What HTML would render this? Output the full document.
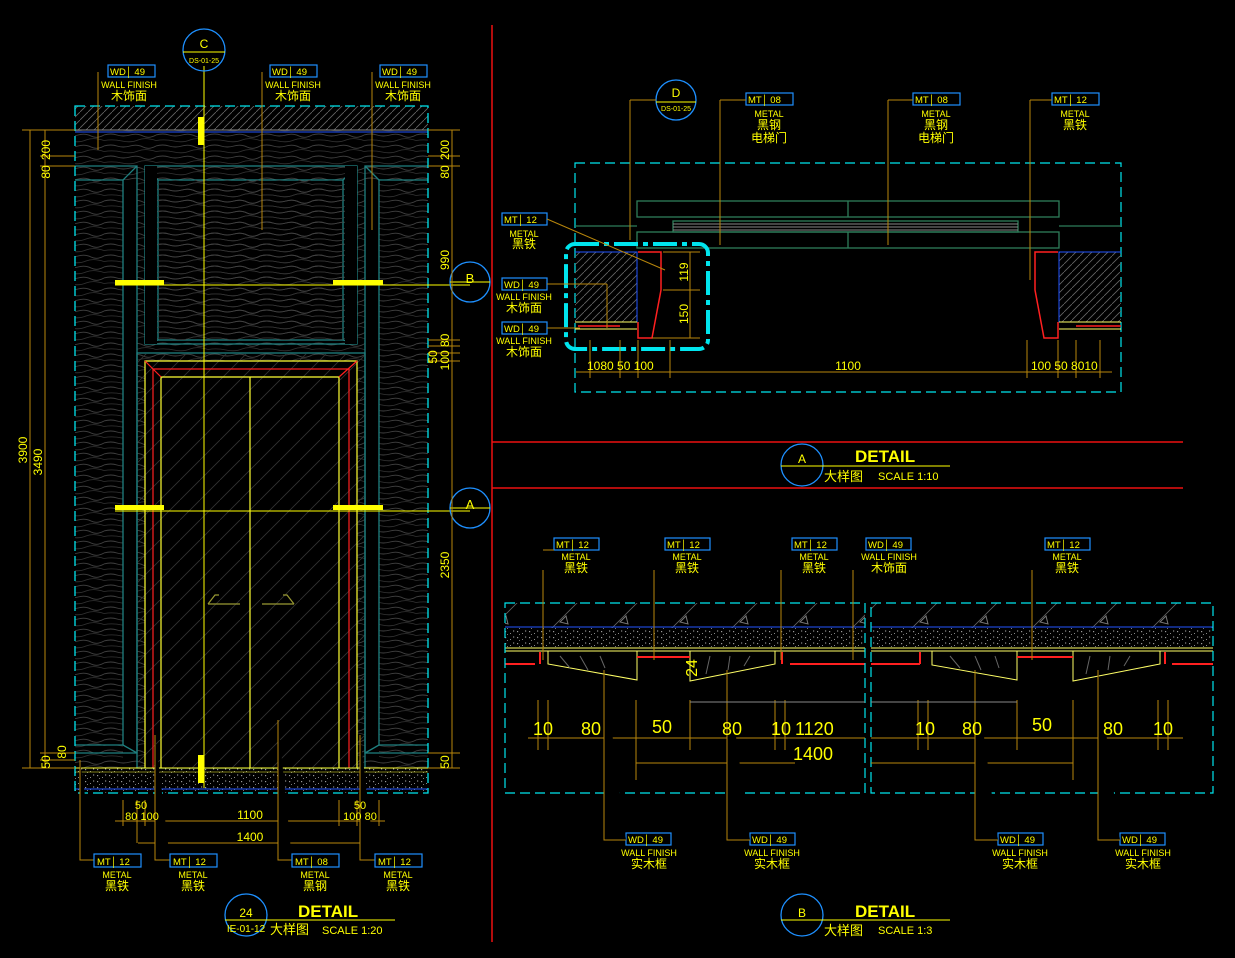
<!DOCTYPE html>
<html><head><meta charset="utf-8"><style>
html,body{margin:0;padding:0;background:#000;}
svg{display:block}
text{font-family:"Liberation Sans","Noto Sans CJK SC",sans-serif;fill:#ffff00;}
.t{font-size:10px}
.c{font-size:12px}
.d{font-size:13px}
</style></head><body>
<svg width="1235" height="958" viewBox="0 0 1235 958" xmlns="http://www.w3.org/2000/svg">
<defs>
<pattern id="wood" width="52" height="11" patternUnits="userSpaceOnUse">
<path d="M0 3 Q7 1 13 3 T26 3 T39 4 T52 3" stroke="#414141" stroke-width="0.9" fill="none"/>
<path d="M0 8.5 Q9 7 18 9 T34 8 T52 8.5" stroke="#333" stroke-width="0.8" fill="none"/>
</pattern>
<pattern id="hatch" width="8" height="8" patternUnits="userSpaceOnUse">
<path d="M0 8 L8 0" stroke="#666" stroke-width="0.8"/>
</pattern>
<pattern id="glass" width="20" height="20" patternUnits="userSpaceOnUse">
<path d="M0 20 L20 0" stroke="#333" stroke-width="0.8"/>
</pattern>
<pattern id="speck" width="12" height="6" patternUnits="userSpaceOnUse">
<rect x="1" y="1" width="1.2" height="1.2" fill="#999"/><rect x="6" y="3" width="1" height="1" fill="#888"/><rect x="9" y="0.5" width="1.2" height="1" fill="#aaa"/><rect x="3" y="4" width="1" height="1" fill="#777"/>
</pattern>
<pattern id="conc" width="60" height="40" patternUnits="userSpaceOnUse">
<path d="M0 40 L40 0" stroke="#666" stroke-width="0.8"/><path d="M20 22 l6 -6 l2 8z" stroke="#777" fill="none"/>
</pattern>
</defs>

<!-- ========== LEFT ELEVATION ========== -->
<rect x="75" y="130" width="353" height="638" fill="url(#wood)"/>
<rect x="75" y="106" width="353" height="24" fill="url(#hatch)"/>
<line x1="75" y1="130" x2="428" y2="130" stroke="#888"/>
<line x1="75" y1="132" x2="428" y2="132" stroke="#2255ff"/>
<rect x="123" y="180" width="14" height="580" fill="#000"/>
<rect x="365" y="180" width="14" height="580" fill="#000"/>
<g stroke="#1f8080" fill="none" stroke-width="1.3">
<path d="M75 166 H137 V753 H75"/><path d="M75 180 H123 V745 H75"/>
<path d="M428 166 H365 V753 H428"/><path d="M428 180 H379 V745 H428"/>
<line x1="123" y1="180" x2="137" y2="166"/><line x1="379" y1="180" x2="365" y2="166"/>
<line x1="123" y1="745" x2="137" y2="753"/><line x1="379" y1="745" x2="365" y2="753"/>
<rect x="145" y="166" width="212" height="178"/>
<rect x="158" y="180" width="185" height="160"/>
<line x1="145" y1="166" x2="158" y2="180"/><line x1="357" y1="166" x2="343" y2="180"/>
<line x1="145" y1="344" x2="158" y2="340"/><line x1="357" y1="344" x2="343" y2="340"/>
<rect x="137" y="353" width="228" height="415"/>
</g>
<rect x="145" y="166" width="12" height="178" fill="#000"/><rect x="345" y="166" width="12" height="178" fill="#000"/>
<rect x="158" y="180" width="185" height="160" fill="url(#wood)"/>
<rect x="138" y="354" width="226" height="414" fill="url(#glass)"/>
<rect x="145" y="361" width="212" height="407" fill="#000"/>
<rect x="145" y="361" width="212" height="407" fill="url(#glass)"/>
<g fill="none" stroke-width="1.2">
<path d="M145 768 V361 H357 V768" stroke="#ffff33"/>
<path d="M153 768 V369 H349 V768" stroke="#ff2020"/>
<path d="M161 768 V377 H339 V768" stroke="#ffff33"/>
<line x1="145" y1="361" x2="161" y2="377" stroke="#ff2020"/><line x1="357" y1="361" x2="339" y2="377" stroke="#ff2020"/>
<line x1="250" y1="377" x2="250" y2="768" stroke="#ffff33"/>
<path d="M208 604 H240 M208 604 L215 595 H219" stroke="#999933"/>
<path d="M262 604 H294 M294 604 L287 595 H283" stroke="#999933"/>
</g>
<rect x="75" y="768" width="353" height="25" fill="url(#speck)"/>
<line x1="75" y1="768" x2="428" y2="768" stroke="#ffff33"/>
<line x1="75" y1="772" x2="428" y2="772" stroke="#ffff33" stroke-width="0.6"/>
<line x1="75" y1="789" x2="428" y2="789" stroke="#2255ff"/>
<rect x="75" y="106" width="353" height="687" fill="none" stroke="#00e5ee" stroke-width="1.3" stroke-dasharray="10 5"/>
<g stroke="#ffff00">
<line x1="204" y1="66" x2="204" y2="788" stroke-width="1"/>
<line x1="115" y1="285" x2="470" y2="285"/>
<line x1="115" y1="511" x2="470" y2="511"/>
</g>
<g fill="#ffff00">
<rect x="198" y="117" width="6" height="28"/><rect x="198" y="755" width="6" height="28"/>
<rect x="115" y="280" width="49" height="5"/><rect x="333" y="280" width="50" height="5"/>
<rect x="115" y="505" width="49" height="5"/><rect x="333" y="505" width="50" height="5"/>
</g>
<g fill="none" stroke="#1e90ff" stroke-width="1.3">
<circle cx="204" cy="50" r="21"/><circle cx="470" cy="282" r="20"/><circle cx="470" cy="508" r="20"/>
<circle cx="676" cy="100" r="20"/>
<circle cx="246" cy="915" r="21"/><circle cx="802" cy="465" r="21"/><circle cx="802" cy="915" r="21"/>
</g>
<g stroke="#ffff00"><line x1="183" y1="52" x2="225" y2="52"/><line x1="450" y1="282" x2="490" y2="282"/><line x1="450" y1="508" x2="490" y2="508"/><line x1="656" y1="102" x2="696" y2="102"/></g>
<text x="204" y="48" class="c" text-anchor="middle" fill="#fff">C</text>
<text x="204" y="63" font-size="7" text-anchor="middle">DS-01-25</text>
<text x="470" y="283" class="d" text-anchor="middle" fill="#fff">B</text>
<text x="470" y="509" class="d" text-anchor="middle" fill="#fff">A</text>
<text x="676" y="97" class="c" text-anchor="middle" fill="#fff">D</text>
<text x="676" y="111" font-size="7" text-anchor="middle">DS-01-25</text>

<g stroke="#b8860b" stroke-width="1">
<line x1="30" y1="130" x2="30" y2="768"/><line x1="45" y1="130" x2="45" y2="768"/>
<line x1="22" y1="130" x2="75" y2="130"/><line x1="22" y1="768" x2="75" y2="768"/>
<line x1="40" y1="156" x2="75" y2="156"/><line x1="40" y1="166" x2="75" y2="166"/>
<line x1="40" y1="753" x2="75" y2="753"/><line x1="40" y1="760" x2="75" y2="760"/>
<line x1="452" y1="130" x2="452" y2="768"/>
<line x1="428" y1="130" x2="460" y2="130"/><line x1="428" y1="156" x2="460" y2="156"/><line x1="428" y1="166" x2="460" y2="166"/>
<line x1="428" y1="340" x2="460" y2="340"/><line x1="428" y1="346" x2="460" y2="346"/><line x1="428" y1="353" x2="460" y2="353"/><line x1="428" y1="361" x2="460" y2="361"/>
<line x1="428" y1="768" x2="460" y2="768"/><line x1="428" y1="753" x2="460" y2="753"/>
</g>
<g font-size="12">
<text transform="translate(27,450) rotate(-90)" text-anchor="middle">3900</text>
<text transform="translate(42,462) rotate(-90)" text-anchor="middle">3490</text>
<text transform="translate(50,150) rotate(-90)" text-anchor="middle">200</text>
<text transform="translate(50,172) rotate(-90)" text-anchor="middle">80</text>
<text transform="translate(50,762) rotate(-90)" text-anchor="middle">50</text>
<text transform="translate(66,752) rotate(-90)" text-anchor="middle">80</text>
<text transform="translate(449,150) rotate(-90)" text-anchor="middle">200</text>
<text transform="translate(449,172) rotate(-90)" text-anchor="middle">80</text>
<text transform="translate(449,260) rotate(-90)" text-anchor="middle">990</text>
<text transform="translate(437,357) rotate(-90)" text-anchor="middle">50</text>
<text transform="translate(449,352) rotate(-90)" text-anchor="middle">100 80</text>
<text transform="translate(449,565) rotate(-90)" text-anchor="middle">2350</text>
<text transform="translate(449,762) rotate(-90)" text-anchor="middle">50</text>
</g>
<g stroke="#b8860b">
<line x1="115" y1="821" x2="385" y2="821"/><line x1="138" y1="843" x2="364" y2="843"/>
<line x1="123" y1="800" x2="123" y2="826"/><line x1="137" y1="800" x2="137" y2="843"/><line x1="145" y1="800" x2="145" y2="826"/><line x1="162" y1="800" x2="162" y2="826"/>
<line x1="339" y1="800" x2="339" y2="826"/><line x1="357" y1="800" x2="357" y2="826"/><line x1="365" y1="800" x2="365" y2="843"/><line x1="379" y1="800" x2="379" y2="826"/>
<path d="M80 760 V860 H94"/><path d="M155 735 V860 H170"/><path d="M278 720 V860 H292"/><path d="M360 735 V860 H375"/>
<line x1="98" y1="150" x2="98" y2="72"/><line x1="262" y1="230" x2="262" y2="72"/><line x1="372" y1="230" x2="372" y2="72"/>
</g>
<text x="250" y="819" class="c" text-anchor="middle">1100</text>
<text x="250" y="841" class="c" text-anchor="middle">1400</text>
<text x="141" y="809" font-size="11" text-anchor="middle">50</text>
<text x="142" y="820" font-size="11" text-anchor="middle">80 100</text>
<text x="360" y="809" font-size="11" text-anchor="middle">50</text>
<text x="360" y="820" font-size="11" text-anchor="middle">100 80</text>

<g fill="none" stroke="#1e90ff" stroke-width="1.2">
<rect x="108" y="65" width="47" height="12"/><rect x="270" y="65" width="47" height="12"/><rect x="380" y="65" width="47" height="12"/>
<rect x="94" y="854" width="47" height="13"/><rect x="170" y="854" width="47" height="13"/><rect x="292" y="854" width="47" height="13"/><rect x="375" y="854" width="47" height="13"/>
<rect x="746" y="93" width="47" height="12"/><rect x="913" y="93" width="47" height="12"/><rect x="1052" y="93" width="47" height="12"/>
<rect x="502" y="213" width="45" height="12"/><rect x="502" y="278" width="45" height="12"/><rect x="502" y="322" width="45" height="12"/>
<rect x="554" y="538" width="45" height="12"/><rect x="665" y="538" width="45" height="12"/><rect x="792" y="538" width="45" height="12"/><rect x="866" y="538" width="45" height="12"/><rect x="1045" y="538" width="45" height="12"/>
<rect x="626" y="833" width="45" height="12"/><rect x="750" y="833" width="45" height="12"/><rect x="998" y="833" width="45" height="12"/><rect x="1120" y="833" width="45" height="12"/>
</g>
<g font-size="9.5">
<text x="110" y="75">WD│ 49</text><text x="272" y="75">WD│ 49</text><text x="382" y="75">WD│ 49</text>
<text x="97" y="865">MT│ 12</text><text x="173" y="865">MT│ 12</text><text x="295" y="865">MT│ 08</text><text x="378" y="865">MT│ 12</text>
<text x="748" y="103">MT│ 08</text><text x="915" y="103">MT│ 08</text><text x="1054" y="103">MT│ 12</text>
<text x="504" y="223">MT│ 12</text><text x="504" y="288">WD│ 49</text><text x="504" y="332">WD│ 49</text>
<text x="556" y="548">MT│ 12</text><text x="667" y="548">MT│ 12</text><text x="794" y="548">MT│ 12</text><text x="868" y="548">WD│ 49</text><text x="1047" y="548">MT│ 12</text>
<text x="628" y="843">WD│ 49</text><text x="752" y="843">WD│ 49</text><text x="1000" y="843">WD│ 49</text><text x="1122" y="843">WD│ 49</text>
</g>
<g font-size="9" text-anchor="middle">
<text x="129" y="88">WALL FINISH</text><text x="293" y="88">WALL FINISH</text><text x="403" y="88">WALL FINISH</text>
<text x="117" y="878">METAL</text><text x="193" y="878">METAL</text><text x="315" y="878">METAL</text><text x="398" y="878">METAL</text>
<text x="769" y="117">METAL</text><text x="936" y="117">METAL</text><text x="1075" y="117">METAL</text>
<text x="524" y="237">METAL</text><text x="524" y="300">WALL FINISH</text><text x="524" y="344">WALL FINISH</text>
<text x="576" y="560">METAL</text><text x="687" y="560">METAL</text><text x="814" y="560">METAL</text><text x="889" y="560">WALL FINISH</text><text x="1067" y="560">METAL</text>
<text x="649" y="856">WALL FINISH</text><text x="772" y="856">WALL FINISH</text><text x="1020" y="856">WALL FINISH</text><text x="1143" y="856">WALL FINISH</text>
</g>
<g font-size="12" text-anchor="middle">
<text x="129" y="100">木饰面</text><text x="293" y="100">木饰面</text><text x="403" y="100">木饰面</text>
<text x="117" y="890">黑铁</text><text x="193" y="890">黑铁</text><text x="315" y="890">黑钢</text><text x="398" y="890">黑铁</text>
<text x="769" y="129">黑钢</text><text x="769" y="142">电梯门</text><text x="936" y="129">黑钢</text><text x="936" y="142">电梯门</text><text x="1075" y="129">黑铁</text>
<text x="524" y="248">黑铁</text><text x="524" y="312">木饰面</text><text x="524" y="356">木饰面</text>
<text x="576" y="572">黑铁</text><text x="687" y="572">黑铁</text><text x="814" y="572">黑铁</text><text x="889" y="572">木饰面</text><text x="1067" y="572">黑铁</text>
<text x="649" y="868">实木框</text><text x="772" y="868">实木框</text><text x="1020" y="868">实木框</text><text x="1143" y="868">实木框</text>
</g>

<g stroke="#ee1111" stroke-width="1.5">
<line x1="492" y1="25" x2="492" y2="942"/>
<line x1="492" y1="442" x2="1183" y2="442"/>
<line x1="492" y1="488" x2="1183" y2="488"/>
</g>

<g stroke="#ffff00"><line x1="225" y1="920" x2="395" y2="920"/><line x1="781" y1="466" x2="950" y2="466"/><line x1="781" y1="920" x2="950" y2="920"/></g>
<text x="246" y="917" class="c" text-anchor="middle">24</text>
<text x="246" y="932" font-size="10" text-anchor="middle">IE-01-12</text>
<text x="298" y="917" font-size="17" font-weight="bold">DETAIL</text>
<text x="270" y="934" font-size="13">大样图</text><text x="322" y="934" font-size="11">SCALE   1:20</text>
<text x="802" y="463" class="c" text-anchor="middle">A</text>
<text x="855" y="462" font-size="17" font-weight="bold">DETAIL</text>
<text x="824" y="481" font-size="13">大样图</text><text x="878" y="480" font-size="11">SCALE   1:10</text>
<text x="802" y="917" class="c" text-anchor="middle">B</text>
<text x="855" y="917" font-size="17" font-weight="bold">DETAIL</text>
<text x="824" y="935" font-size="13">大样图</text><text x="878" y="934" font-size="11">SCALE   1:3</text>

<rect x="575" y="163" width="546" height="229" fill="none" stroke="#00e5ee" stroke-width="1.2" stroke-dasharray="10 5"/>
<g fill="none" stroke="#2e7d5a" stroke-width="1.3">
<rect x="637" y="201" width="422" height="16"/><line x1="848" y1="201" x2="848" y2="217"/>
<rect x="637" y="232" width="422" height="16"/><line x1="848" y1="232" x2="848" y2="248"/>
<rect x="673" y="221" width="345" height="11"/>
<line x1="575" y1="226" x2="637" y2="226"/><line x1="1059" y1="226" x2="1121" y2="226"/>
</g>
<g stroke="#888"><line x1="673" y1="224" x2="1018" y2="224"/><line x1="673" y1="227" x2="1018" y2="227"/><line x1="673" y1="230" x2="1018" y2="230"/></g>
<rect x="575" y="252" width="62" height="70" fill="url(#hatch)"/>
<rect x="1059" y="252" width="62" height="70" fill="url(#hatch)"/>
<g stroke="#2255ff" fill="none"><path d="M575 252 H637 V322 H575"/><path d="M1121 252 H1059 V322 H1121"/></g>
<g stroke="#ff2020" stroke-width="1.5" fill="none">
<path d="M638 252 H661 V290 L652 338 H638 V322"/>
<path d="M1058 252 H1035 V290 L1044 338 H1058 V322"/>
<line x1="578" y1="326" x2="620" y2="326"/><line x1="1076" y1="326" x2="1121" y2="326"/>
</g>
<g stroke="#ffff66"><line x1="575" y1="322" x2="637" y2="322"/><line x1="1059" y1="322" x2="1121" y2="322"/><line x1="575" y1="329" x2="637" y2="329"/><line x1="1059" y1="329" x2="1121" y2="329"/></g>
<rect x="566" y="244" width="142" height="105" rx="9" fill="none" stroke="#00e5ee" stroke-width="4" stroke-dasharray="24 5 5 5"/>
<g stroke="#b8860b">
<line x1="576" y1="372" x2="1112" y2="372"/>
<line x1="663" y1="252" x2="700" y2="252"/><line x1="663" y1="290" x2="700" y2="290"/><line x1="652" y1="338" x2="700" y2="338"/><line x1="690" y1="252" x2="690" y2="338"/>
<line x1="630" y1="100" x2="630" y2="240"/><line x1="720" y1="100" x2="720" y2="245"/><line x1="888" y1="100" x2="888" y2="245"/><line x1="1030" y1="100" x2="1030" y2="280"/>
<line x1="630" y1="100" x2="656" y2="100"/><line x1="720" y1="100" x2="746" y2="100"/><line x1="888" y1="100" x2="913" y2="100"/><line x1="1030" y1="100" x2="1052" y2="100"/>
<line x1="547" y1="219" x2="665" y2="270"/><line x1="547" y1="284" x2="607" y2="284"/><line x1="607" y1="284" x2="607" y2="328"/><line x1="547" y1="328" x2="580" y2="328"/>
<line x1="590" y1="340" x2="590" y2="378"/><line x1="620" y1="340" x2="620" y2="378"/><line x1="638" y1="340" x2="638" y2="378"/><line x1="670" y1="340" x2="670" y2="378"/>
<line x1="1027" y1="340" x2="1027" y2="378"/><line x1="1058" y1="340" x2="1058" y2="378"/><line x1="1076" y1="340" x2="1076" y2="378"/><line x1="1100" y1="340" x2="1100" y2="378"/>
</g>
<g font-size="12">
<text x="848" y="370" text-anchor="middle">1100</text>
<text x="587" y="370">1080 50 100</text>
<text x="1031" y="370">100 50 8010</text>
<text transform="translate(688,272) rotate(-90)" text-anchor="middle">119</text>
<text transform="translate(688,314) rotate(-90)" text-anchor="middle">150</text>
</g>

<rect x="505" y="603" width="360" height="25" fill="url(#conc)"/>
<rect x="871" y="603" width="342" height="25" fill="url(#conc)"/>
<rect x="505" y="628" width="360" height="20" fill="url(#speck)"/>
<rect x="871" y="628" width="342" height="20" fill="url(#speck)"/>
<g stroke="#2255ff"><line x1="505" y1="627" x2="865" y2="627"/><line x1="871" y1="627" x2="1213" y2="627"/></g>
<g stroke="#ffff66" fill="none">
<line x1="505" y1="648" x2="865" y2="648"/><line x1="871" y1="648" x2="1213" y2="648"/>
<line x1="505" y1="651" x2="865" y2="651"/><line x1="871" y1="651" x2="1213" y2="651"/>
<path d="M548 651 V664 L637 680 V651"/><path d="M690 651 V681 L775 664 V651"/>
<path d="M932 651 V665 L1017 680 V651"/><path d="M1073 651 V681 L1160 664 V651"/>
</g>
<g stroke="#666"><path d="M560 656 l10 12 M580 656 l8 14 M600 656 l5 12 M710 656 l-4 18 M730 656 l-2 14 M750 656 l-6 10 M950 656 l10 12 M975 656 l6 14 M995 656 l4 12 M1090 656 l-4 18 M1110 656 l-2 14 M1130 656 l-6 10"/></g>
<g stroke="#ff2020" stroke-width="2">
<line x1="505" y1="664" x2="535" y2="664"/><line x1="540" y1="652" x2="540" y2="664"/>
<line x1="637" y1="657" x2="690" y2="657"/><line x1="790" y1="664" x2="865" y2="664"/><line x1="782" y1="652" x2="782" y2="664"/>
<line x1="871" y1="664" x2="920" y2="664"/><line x1="920" y1="652" x2="920" y2="664"/>
<line x1="1017" y1="657" x2="1073" y2="657"/><line x1="1172" y1="664" x2="1213" y2="664"/><line x1="1165" y1="652" x2="1165" y2="664"/>
</g>
<rect x="505" y="603" width="360" height="190" fill="none" stroke="#00e5ee" stroke-width="1.2" stroke-dasharray="10 5"/>
<rect x="871" y="603" width="342" height="190" fill="none" stroke="#00e5ee" stroke-width="1.2" stroke-dasharray="10 5"/>
<g stroke="#b8860b">
<line x1="528" y1="738" x2="865" y2="738"/><line x1="871" y1="738" x2="1183" y2="738"/>
<line x1="636" y1="763" x2="795" y2="763"/><line x1="871" y1="763" x2="1073" y2="763"/>
<line x1="543" y1="570" x2="543" y2="660"/><line x1="654" y1="570" x2="654" y2="660"/><line x1="781" y1="570" x2="781" y2="660"/><line x1="853" y1="570" x2="853" y2="660"/><line x1="1032" y1="570" x2="1032" y2="660"/>
<line x1="543" y1="550" x2="554" y2="550"/>
<line x1="538" y1="700" x2="538" y2="750"/><line x1="548" y1="700" x2="548" y2="750"/><line x1="636" y1="700" x2="636" y2="780"/><line x1="690" y1="700" x2="690" y2="750"/><line x1="775" y1="700" x2="775" y2="750"/><line x1="785" y1="700" x2="785" y2="750"/>
<line x1="918" y1="700" x2="918" y2="750"/><line x1="928" y1="700" x2="928" y2="750"/><line x1="1017" y1="700" x2="1017" y2="750"/><line x1="1073" y1="700" x2="1073" y2="780"/><line x1="1158" y1="700" x2="1158" y2="750"/><line x1="1168" y1="700" x2="1168" y2="750"/>
<path d="M604 670 V840 H626"/><path d="M727 670 V840 H750"/><path d="M975 670 V840 H998"/><path d="M1098 670 V840 H1120"/>
</g>
<g stroke="#888"><line x1="690" y1="702" x2="865" y2="702"/><line x1="871" y1="702" x2="1017" y2="702"/></g>
<g font-size="18">
<text x="533" y="735">10</text><text x="581" y="735">80</text><text x="652" y="733">50</text><text x="722" y="735">80</text>
<text x="771" y="735">10</text><text x="795" y="735">1120</text><text x="793" y="760">1400</text>
<text x="915" y="735">10</text><text x="962" y="735">80</text><text x="1032" y="731">50</text><text x="1103" y="735">80</text><text x="1153" y="735">10</text>
</g>
<text transform="translate(697,668) rotate(-90)" font-size="16" text-anchor="middle">24</text>
</svg>
</body></html>
